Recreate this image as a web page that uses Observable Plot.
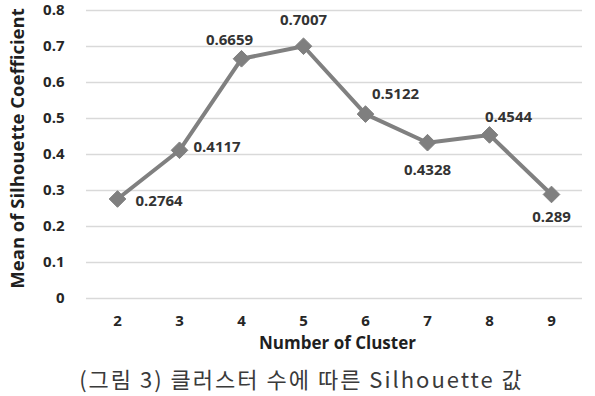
<!DOCTYPE html>
<html><head><meta charset="utf-8">
<script src="https://cdn.jsdelivr.net/npm/d3@7"></script>
<script src="https://cdn.jsdelivr.net/npm/@observablehq/plot@0.6"></script>
<style>
body{margin:0;background:#fff;}
#cap{font-family:"Noto Sans CJK KR","Noto Sans",sans-serif;font-size:22px;letter-spacing:2px;color:#3a3a3a;text-align:center;width:595px;margin-top:3px;padding-left:4px;line-height:30px;}
</style>
</head><body>
<div id="chart"></div>
<div id="cap">(그림 3) 클러스터 수에 따른 Silhouette 값</div>
<script>
const clusters = ["2","3","4","5","6","7","8","9"];
const silhouette = [0.2764, 0.4117, 0.6659, 0.7007, 0.5122, 0.4328, 0.4544, 0.289];
const labels = ["0.2764","0.4117","0.6659","0.7007","0.5122","0.4328","0.4544","0.289"];
const yTicks = [0, 0.1, 0.2, 0.3, 0.4, 0.5, 0.6, 0.7, 0.8];
const yTickLabels = ["0","0.1","0.2","0.3","0.4","0.5","0.6","0.7","0.8"];

const data = clusters.map((c, i) => ({c, v: silhouette[i], label: labels[i], i}));
// label offsets relative to each point
const place = [
  {dx: 18, dy: 2, a: "start"},
  {dx: 14, dy: -3, a: "start"},
  {dx: -12, dy: -19, a: "middle"},
  {dx: 0, dy: -26, a: "middle"},
  {dx: 30, dy: -20, a: "middle"},
  {dx: 0, dy: 27, a: "middle"},
  {dx: 19, dy: -18, a: "middle"},
  {dx: 0, dy: 23, a: "middle"}
];
const font = "'Open Sans', 'DejaVu Sans', sans-serif";
const labelMarks = data.map((d, i) => Plot.text([d], {
  x: "c", y: "v", text: "label", dx: place[i].dx, dy: place[i].dy,
  textAnchor: place[i].a, fontSize: 15, fontWeight: "bold", fill: "#333", fontFamily: font
}));

const chart = Plot.plot({
  width: 595, height: 360,
  marginLeft: 86, marginRight: 13, marginTop: 10, marginBottom: 62,
  style: {fontFamily: font, background: "#fff", overflow: "visible"},
  x: {type: "point", domain: clusters, padding: 0.5, label: null},
  y: {domain: [0, 0.8], label: null},
  marks: [
    Plot.ruleY(yTicks, {stroke: "#d9d9d9", strokeWidth: 1.5}),
    Plot.axisY(yTicks, {tickFormat: (d) => yTickLabels[yTicks.indexOf(d)], tickSize: 0, tickPadding: 22,
      fontSize: 15, fontWeight: "bold", fill: "#262626", label: null}),
    Plot.axisX(clusters, {tickSize: 0, tickPadding: 17, fontSize: 15, fontWeight: "bold", fill: "#262626", label: null}),
    Plot.text(["Mean of Silhouette Coefficient"], {frameAnchor: "left", textAnchor: "middle", dx: -68, dy: -6, rotate: -90, fontSize: 18.5, fontWeight: "bold", fill: "#1f1f1f"}),
    Plot.text(["Number of Cluster"], {frameAnchor: "bottom", textAnchor: "middle", dy: 50, dx: 3, fontSize: 17, fontWeight: "bold", fill: "#1f1f1f"}),
    Plot.line(data, {x: "c", y: "v", stroke: "#808080", strokeWidth: 4}),
    Plot.dot(data, {x: "c", y: "v", symbol: "diamond2", r: 7.5, fill: "#7f7f7f", stroke: "#7f7f7f", strokeWidth: 1}),
    ...labelMarks
  ]
});
document.getElementById("chart").appendChild(chart);
</script>
</body></html>
